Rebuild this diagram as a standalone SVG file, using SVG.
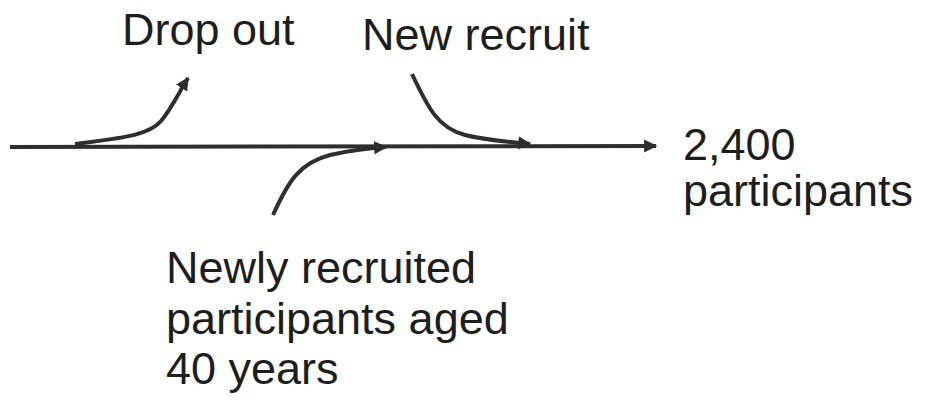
<svg xmlns="http://www.w3.org/2000/svg" width="929" height="402" viewBox="0 0 929 402">
<style>
.lbl{font-family:"Liberation Sans",Arial,Helvetica,sans-serif;font-size:45px;fill:#1e1e1e}
.ln{fill:none;stroke:#2e2e2e;stroke-width:4;stroke-linecap:butt}
</style>
<defs>
<marker id="ah" viewBox="0 0 10 10" refX="9" refY="5" markerWidth="3.3" markerHeight="3.3" orient="auto" markerUnits="strokeWidth">
<path d="M0 0 L10 5 L0 10 Z" fill="#2e2e2e"/>
</marker>
</defs>
<rect width="929" height="402" fill="#ffffff"/>
<g id="connectors">
<path class="ln" d="M10 147 L656 146" marker-end="url(#ah)"/>
<path class="ln" d="M75 144 C120 138 148 136 161 121 C172 108 179 92 188 78" marker-end="url(#ah)"/>
<path class="ln" d="M273 215 C288 182 299 163 330 155 C352 150 370 148 386 147" marker-end="url(#ah)"/>
<path class="ln" d="M412 74 C428 108 438 128 465 135 C485 140 508 142 530 144" marker-end="url(#ah)"/>
</g>
<g id="drop-out"><text class="lbl" x="122" y="45">Drop out</text></g>
<g id="new-recruit"><text class="lbl" x="362" y="50">New recruit</text></g>
<g id="total"><text class="lbl" x="683" y="160">2,400</text><text class="lbl" x="683" y="206">participants</text></g>
<g id="newly-recruited"><text class="lbl" x="166" y="283">Newly recruited</text><text class="lbl" x="166" y="334">participants aged</text><text class="lbl" x="166" y="384">40 years</text></g>
</svg>
